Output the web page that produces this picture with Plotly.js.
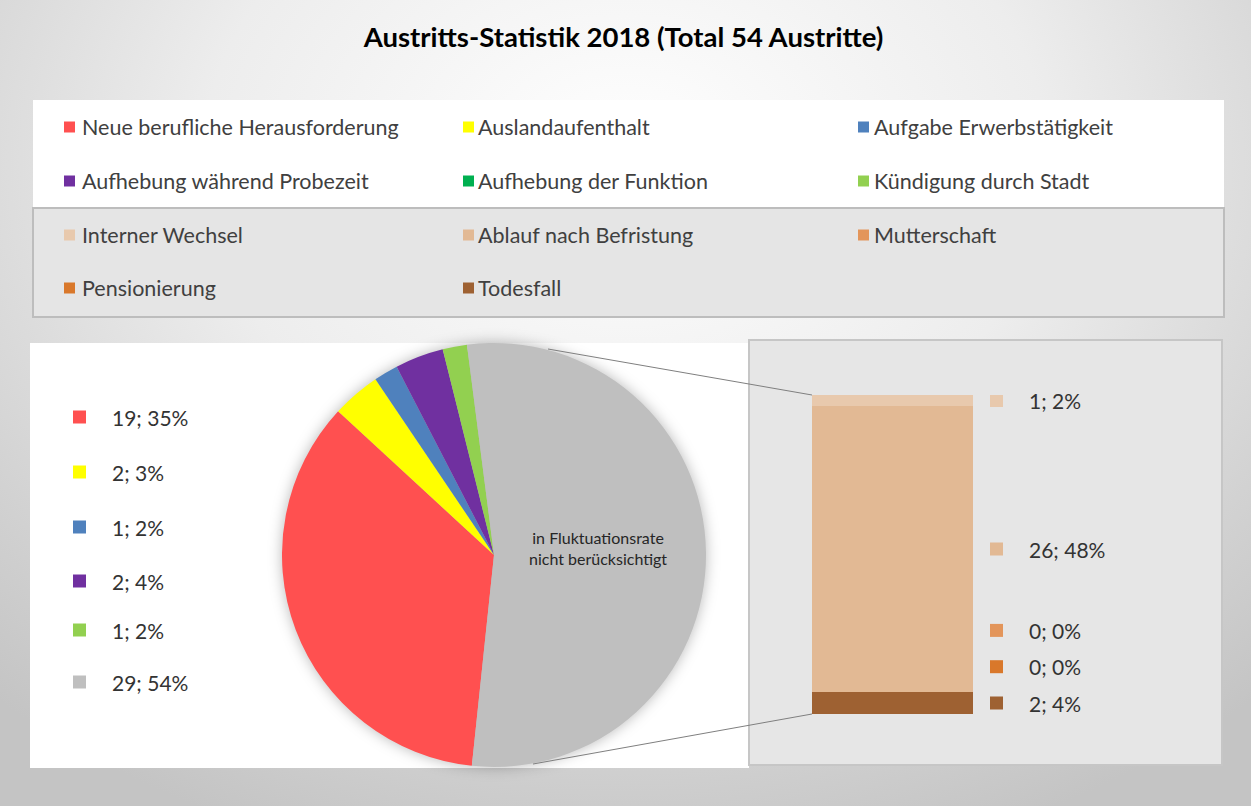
<!DOCTYPE html>
<html>
<head>
<meta charset="utf-8">
<script src="https://cdn.plot.ly/plotly-3.0.1.min.js"></script>
<style>
  html, body { margin:0; padding:0; }
  body {
    width:1251px; height:806px; overflow:hidden;
    background: radial-gradient(ellipse 75% 90% at 50% 20%, #ffffff 0%, #ededed 45%, #d2d2d2 80%, #c4c4c4 100%);
  }
  #chart { width:1251px; height:806px; }
  .pielayer { filter: drop-shadow(0px 0px 7px rgba(0,0,0,0.28)); }
  .barlayer { filter: drop-shadow(0px 0px 6px rgba(0,0,0,0.22)); }
</style>
</head>
<body>
<div id="chart"></div>
<script>
// ---------------- DATA ----------------
const pieLabels = ['Neue berufliche Herausforderung', 'Auslandaufenthalt', 'Aufgabe Erwerbstätigkeit',
                   'Aufhebung während Probezeit', 'Aufhebung der Funktion', 'Kündigung durch Stadt',
                   'in Fluktuationsrate nicht berücksichtigt'];
const pieValues = [19, 2, 1, 2, 0, 1, 29];
const pieValueLabels = ['19; 35%', '2; 3%', '1; 2%', '2; 4%', '0; 0%', '1; 2%', '29; 54%'];
const pieColors = ['#ff5050', '#ffff00', '#4f81bd', '#7030a0', '#00b050', '#92d050', '#bfbfbf'];

const barLabels = ['Todesfall', 'Pensionierung', 'Mutterschaft', 'Ablauf nach Befristung', 'Interner Wechsel'];
const barValues = [2, 0, 0, 26, 1];
const barValueLabels = ['2; 4%', '0; 0%', '0; 0%', '26; 48%', '1; 2%'];
const barColors = ['#9e6132', '#d9782b', '#e3955a', '#e2b994', '#e8c9ad'];

const legendOrder = ['Neue berufliche Herausforderung', 'Auslandaufenthalt', 'Aufgabe Erwerbstätigkeit',
                     'Aufhebung während Probezeit', 'Aufhebung der Funktion', 'Kündigung durch Stadt',
                     'Interner Wechsel', 'Ablauf nach Befristung', 'Mutterschaft', 'Pensionierung', 'Todesfall'];

const chartTitle = 'Austritts-Statistik 2018 (Total 54 Austritte)';
const otherNote = 'in Fluktuationsrate<br>nicht berücksichtigt';

// ---------------- LAYOUT HELPERS ----------------
const W = 1251, H = 806;
const px = x => x / W;
const py = y => 1 - y / H;
const FONT = 'Lato, "Noto Sans", sans-serif';
const TXT = '#404040';

const colorOf = {};
pieLabels.forEach((l, i) => colorOf[l] = pieColors[i]);
barLabels.forEach((l, i) => colorOf[l] = barColors[i]);

const shapes = [];
const annotations = [];

// panels
shapes.push({type:'rect', xref:'paper', yref:'paper', layer:'below',
  x0:px(33), x1:px(1224), y0:py(208), y1:py(100), fillcolor:'#ffffff', line:{width:0}});
shapes.push({type:'rect', xref:'paper', yref:'paper', layer:'below',
  x0:px(33), x1:px(1224), y0:py(317), y1:py(208), fillcolor:'#e5e5e5', line:{color:'#bdbdbd', width:2}});
shapes.push({type:'rect', xref:'paper', yref:'paper', layer:'below',
  x0:px(30), x1:px(749), y0:py(768), y1:py(343), fillcolor:'#ffffff', line:{width:0}});
shapes.push({type:'rect', xref:'paper', yref:'paper', layer:'below',
  x0:px(749), x1:px(1222), y0:py(765), y1:py(340), fillcolor:'#e6e6e6', line:{color:'#c6c6c6', width:2}});

// top legend grid
const colSq = [64, 463, 858], colTx = [80, 476, 872], rowY = [127, 181, 235, 288];
legendOrder.forEach((name, i) => {
  const c = i % 3, r = Math.floor(i / 3);
  const y = rowY[r];
  shapes.push({type:'rect', xref:'paper', yref:'paper', layer:'above',
    x0:px(colSq[c]), x1:px(colSq[c] + 11), y0:py(y + 5.5), y1:py(y - 5.5),
    fillcolor:colorOf[name], line:{width:0}});
  annotations.push({xref:'paper', yref:'paper', x:px(colTx[c]), y:py(y), xanchor:'left', yanchor:'middle',
    text:name, showarrow:false, font:{family:FONT, size:21.5, color:TXT}});
});

// left value list for pie (non-zero slices)
const listY = [417, 472, 527, 581, 630, 682];
let k = 0;
pieValues.forEach((v, i) => {
  if (v <= 0) return;
  const y = listY[k++];
  shapes.push({type:'rect', xref:'paper', yref:'paper', layer:'above',
    x0:px(73), x1:px(86), y0:py(y + 6.5), y1:py(y - 6.5), fillcolor:pieColors[i], line:{width:0}});
  annotations.push({xref:'paper', yref:'paper', x:px(110), y:py(y), xanchor:'left', yanchor:'middle',
    text:pieValueLabels[i], showarrow:false, font:{family:FONT, size:21, color:'#333333'}});
});

// right value list for bar segments (placed at segment centres, spread to avoid overlap)
let cum = 0, lastY = -Infinity;
const minGap = 3.3;
barValues.forEach((v, i) => {
  let yc = cum + v / 2;
  cum += v;
  if (yc < lastY + minGap) yc = lastY + minGap;
  lastY = yc;
  shapes.push({type:'rect', xref:'paper', yref:'y2', ysizemode:'pixel', yanchor:yc, layer:'above',
    x0:px(990), x1:px(1003), y0:-6.5, y1:6.5, fillcolor:barColors[i], line:{width:0}});
  annotations.push({xref:'paper', yref:'y2', x:px(1027), y:yc, xanchor:'left', yanchor:'middle',
    text:barValueLabels[i], showarrow:false, font:{family:FONT, size:21, color:'#333333'}});
});

// connector lines (pie -> bar)
shapes.push({type:'line', xref:'paper', yref:'paper', layer:'above',
  x0:px(548), y0:py(349), x1:px(812), y1:py(395), line:{color:'#7f7f7f', width:1}});
shapes.push({type:'line', xref:'paper', yref:'paper', layer:'above',
  x0:px(533), y0:py(764), x1:px(812), y1:py(714), line:{color:'#7f7f7f', width:1}});

// note in grey slice
annotations.push({xref:'paper', yref:'paper', x:px(598), y:py(548), xanchor:'center', yanchor:'middle',
  text:otherNote, showarrow:false, font:{family:FONT, size:16, color:'#262626'}});

// ---------------- TRACES ----------------
const traces = [];
traces.push({
  type:'pie', labels:pieLabels, values:pieValues, sort:false, direction:'clockwise', rotation:186,
  marker:{colors:pieColors, line:{width:0}}, textinfo:'none', hoverinfo:'label+value+percent',
  showlegend:false,
  domain:{x:[px(281), px(707)], y:[1 - 767/H, 1 - 343/H]}
});
barLabels.forEach((name, i) => {
  traces.push({
    type:'bar', name:name, x:['Nicht berücksichtigt'], y:[barValues[i]],
    marker:{color:barColors[i], line:{width:0}}, xaxis:'x2', yaxis:'y2', showlegend:false,
    hoverinfo:'name+y'
  });
});

const layout = {
  width:W, height:H,
  margin:{l:0, r:0, t:0, b:0},
  paper_bgcolor:'rgba(0,0,0,0)', plot_bgcolor:'rgba(0,0,0,0)',
  title:{text:'<b>' + chartTitle + '</b>', x:0.4984, xref:'paper', xanchor:'center',
         y:py(37), yref:'paper', yanchor:'middle', font:{family:FONT, size:27.5, color:'#000000'}},
  showlegend:false,
  barmode:'stack', bargap:0,
  xaxis2:{domain:[px(812), px(973)], anchor:'y2', visible:false, type:'category', fixedrange:true},
  yaxis2:{domain:[1 - 714/H, 1 - 395/H], anchor:'x2', visible:false, range:[0, 29], fixedrange:true},
  shapes:shapes,
  annotations:annotations
};

Plotly.newPlot('chart', traces, layout, {displayModeBar:false, staticPlot:true});
</script>
</body>
</html>
